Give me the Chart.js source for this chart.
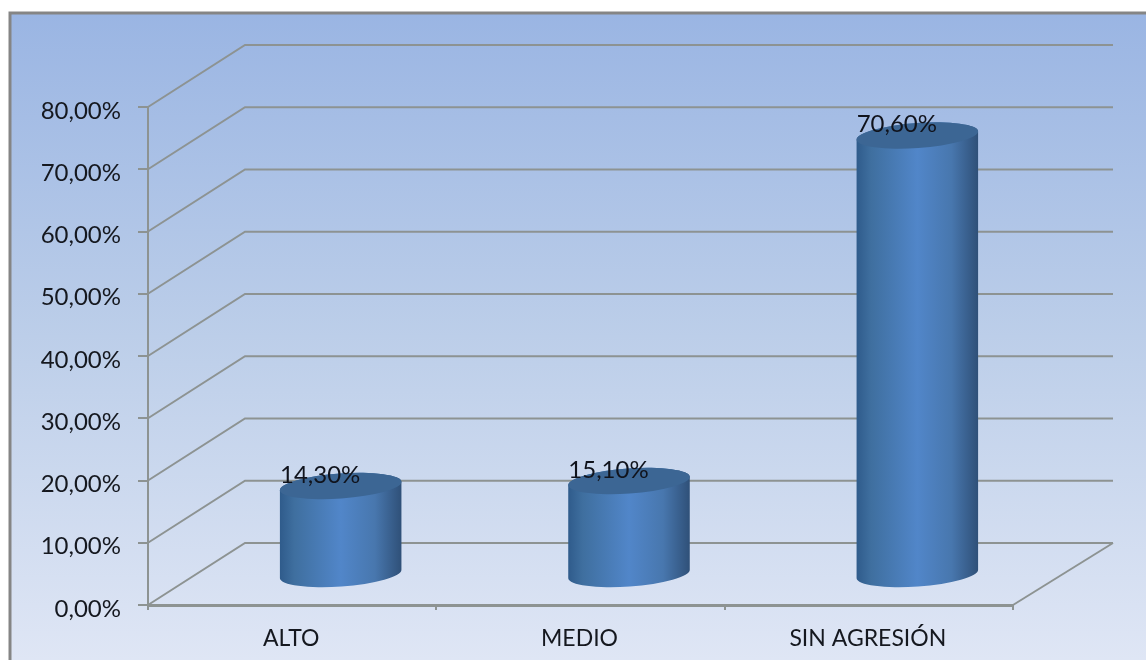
<!DOCTYPE html>
<html>
<head>
<meta charset="utf-8">
<title>Niveles de agresión</title>
<script src="https://cdn.jsdelivr.net/npm/chart.js@4/dist/chart.umd.js"></script>
<style>
  html, body { margin: 0; padding: 0; background: #fff; }
  canvas { display: block; }
</style>
</head>
<body>
<canvas id="myChart" width="1146" height="660"></canvas>
<script>
const categories = ["ALTO", "MEDIO", "SIN AGRESIÓN"];
const values = [14.3, 15.1, 70.6];

const FONT = "Lato, 'Noto Sans', sans-serif";
const LINE = "#8d9392";
// depth of the fake 3d box
const DX = 97;
const DY = -62;

const pct = (v) => v.toFixed(2).replace(".", ",") + "%";

const fake3d = {
  id: "fake3d",
  beforeDraw(chart) {
    const { ctx, width, height } = chart;
    ctx.save();
    ctx.fillStyle = "#fff";
    ctx.fillRect(0, 0, width, height);
    const g = ctx.createLinearGradient(0, 13, 0, height);
    g.addColorStop(0, "#9ab5e3");
    g.addColorStop(0.5, "#bccee9");
    g.addColorStop(1, "#dfe6f5");
    ctx.fillStyle = g;
    ctx.fillRect(9, 12, width - 9, height - 12);
    ctx.strokeStyle = "#858585";
    ctx.lineWidth = 3;
    ctx.beginPath();
    ctx.moveTo(10, height);
    ctx.lineTo(10, 13);
    ctx.lineTo(width, 13);
    ctx.stroke();
    ctx.restore();
  },
  beforeDatasetsDraw(chart) {
    const { ctx, chartArea, scales } = chart;
    const { left, right, bottom } = chartArea;
    ctx.save();
    ctx.strokeStyle = LINE;
    ctx.lineWidth = 2;
    scales.y.ticks.forEach((t) => {
      const y = scales.y.getPixelForValue(t.value);
      ctx.beginPath();
      ctx.moveTo(left, y);
      ctx.lineTo(left + DX, y + DY);
      ctx.lineTo(right + DX + 3, y + DY);
      ctx.stroke();
    });
    // floor edge on the right
    ctx.beginPath();
    ctx.moveTo(right, bottom);
    ctx.lineTo(right + DX + 3, bottom + DY);
    ctx.stroke();
    ctx.restore();
  },
  afterDatasetsDraw(chart) {
    const { ctx, scales } = chart;
    const base = scales.y.getPixelForValue(0);
    const tilt = -0.07;
    chart.getDatasetMeta(0).data.forEach((bar, i) => {
      const cx = bar.x + DX / 2;
      const rx = bar.width / 2;
      const ry = 12.5;
      const top = bar.y + DY / 2 + 1;
      const bot = base + DY / 2;

      const g = ctx.createLinearGradient(cx - rx, 0, cx + rx, 0);
      g.addColorStop(0, "#2f5b8b");
      g.addColorStop(0.12, "#3f6f9f");
      g.addColorStop(0.5, "#5186c9");
      g.addColorStop(0.78, "#4877ae");
      g.addColorStop(1, "#2f5078");

      ctx.save();
      ctx.fillStyle = g;
      ctx.beginPath();
      ctx.ellipse(cx, bot, rx, ry, tilt, Math.PI, 0, true);
      ctx.ellipse(cx, top, rx, ry, tilt, 0, Math.PI, true);
      ctx.closePath();
      ctx.fill();

      ctx.fillStyle = "#3c6694";
      ctx.beginPath();
      ctx.ellipse(cx, top, rx, ry, tilt, 0, Math.PI * 2);
      ctx.fill();

      ctx.fillStyle = "#10131c";
      ctx.font = "24px " + FONT;
      ctx.textAlign = "center";
      ctx.textBaseline = "middle";
      ctx.fillText(pct(values[i]), bar.x + 28, bar.y - 41);
      ctx.restore();
    });
  },
};

new Chart(document.getElementById("myChart"), {
  type: "bar",
  data: {
    labels: categories,
    datasets: [
      {
        data: values,
        backgroundColor: "transparent",
        barPercentage: 0.845,
        categoryPercentage: 0.5,
      },
    ],
  },
  options: {
    responsive: false,
    animation: false,
    layout: { padding: { top: 107, right: 133, left: 0, bottom: 0 } },
    plugins: { legend: { display: false }, tooltip: { enabled: false } },
    scales: {
      x: {
        afterFit: (s) => { s.height = 55; },
        grid: { drawOnChartArea: false, color: LINE, lineWidth: 2, tickLength: 5 },
        border: { color: LINE, width: 3 },
        ticks: {
          color: "#15181f",
          font: { family: FONT, size: 23 },
          padding: 15,
          labelOffset: -1,
          maxRotation: 0,
        },
      },
      y: {
        min: 0,
        max: 80,
        afterFit: (s) => { s.width = 148; },
        grid: { drawOnChartArea: false, color: LINE, lineWidth: 2, tickLength: 10 },
        border: { color: LINE, width: 2 },
        ticks: {
          stepSize: 10,
          color: "#15181f",
          font: { family: FONT, size: 24 },
          padding: 17,
          labelOffset: 4,
          callback: (v) => pct(v),
        },
      },
    },
  },
  plugins: [fake3d],
});
</script>
</body>
</html>
